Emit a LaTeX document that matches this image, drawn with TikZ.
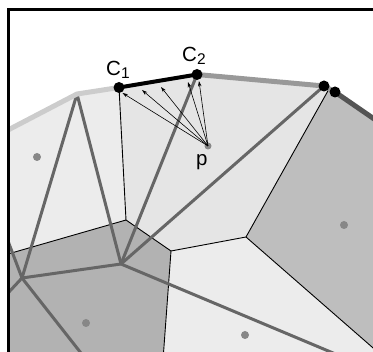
\documentclass[tikz,border=0pt]{standalone}
\usepackage{fontspec}
\setmainfont{Liberation Sans}
\usetikzlibrary{arrows.meta}
\definecolor{regA}{gray}{0.925}
\definecolor{regP}{gray}{0.9}
\definecolor{regR}{gray}{0.745}
\definecolor{regB}{gray}{0.70}
\definecolor{delc}{gray}{0.40}
\definecolor{hullL}{gray}{0.80}
\definecolor{hullM}{gray}{0.60}
\definecolor{hullD}{gray}{0.33}
\definecolor{sitec}{gray}{0.53}
\tikzset{
  vor/.style={black, line width=0.9pt},
  del/.style={delc, line width=3pt},
  hullline/.style={line width=5pt, line join=round},
  ray/.style={black, line width=0.6pt, -{Stealth[length=5.5pt,width=3.5pt]}},
  vert/.style={circle, fill=black, inner sep=0pt, minimum size=11pt},
  site/.style={circle, fill=sitec, inner sep=0pt, minimum size=8pt},
  lab/.style={anchor=base west, inner sep=0pt, font=\fontsize{20.5}{23}\selectfont}
}
\newcommand{\subs}[1]{\raisebox{-3pt}{\fontsize{15.5}{17}\selectfont #1}}
\begin{document}
\begin{tikzpicture}[x=1pt,y=-1pt]
\useasboundingbox (0,0) rectangle (373,352);
% hull points
\coordinate (H0) at (0,134.2);
\coordinate (H1) at (77,94);
\coordinate (C1) at (119,87.5);
\coordinate (C2) at (197,74.5);
\coordinate (H3) at (324,86);
\coordinate (H4) at (335,92);
\coordinate (H5) at (380,123);
% Voronoi vertices and ends
\coordinate (V1) at (126,220);
\coordinate (V2) at (171,251);
\coordinate (V3) at (246,237);
\coordinate (E0) at (329,89);
\coordinate (L1) at (0,256.3);
\coordinate (B1) at (163,360);
\coordinate (R1) at (380,354);
% Delaunay points
\coordinate (D1) at (22,278);
\coordinate (D2) at (121,264);
\coordinate (X1) at (0,301.6);
\coordinate (X2) at (0,219.9);
\coordinate (X3) at (88,362);
\coordinate (X4) at (345,358);
% arrow targets
\coordinate (a1) at (122.5,93);
\coordinate (a2) at (142,90);
\coordinate (a3) at (161,87);
\coordinate (a4) at (188,82);
\coordinate (a5) at (199,81);
\begin{scope}
\clip (8,10) rectangle (373,352);
% regions
\fill[regA] (H0) -- (H1) -- (C1) -- (V1) -- (L1) -- cycle;
\fill[regP] (C1) -- (C2) -- (H3) -- (E0) -- (V3) -- (V2) -- (V1) -- cycle;
\fill[regR] (E0) -- (H4) -- (H5) -- (R1) -- (V3) -- cycle;
\fill[regB] (L1) -- (V1) -- (V2) -- (B1) -- (0,360) -- cycle;
\fill[regA] (V2) -- (V3) -- (R1) -- (380,360) -- (B1) -- cycle;
% Voronoi edges
\draw[vor] (C1) -- (V1) -- (L1);
\draw[vor] (V1) -- (V2) -- (B1);
\draw[vor] (V2) -- (V3) -- (R1);
\draw[vor] (V3) -- (E0);
% Delaunay edges
\draw[del] (H1) -- (D1);
\draw[del] (H1) -- (D2);
\draw[del] (C2) -- (D2);
\draw[del] (H3) -- (D2);
\draw[del] (D1) -- (D2);
\draw[del] (D2) -- (X4);
\draw[del] (D1) -- (X1);
\draw[del] (D1) -- (X2);
\draw[del] (D1) -- (X3);
% hull
\draw[hullline, hullL] (H0) -- (H1) -- (C1);
\draw[hullline, hullM] (C2) -- (H3) -- (H4);
\draw[hullline, hullD] (H4) -- (H5);
\draw[black, line width=4pt] (C1) -- (C2);
% sites
\node[site] (s1) at (37,157) {};
\node[site] (s2) at (86,323) {};
\node[site] (s3) at (245,335) {};
\node[site] (s4) at (344,225) {};
\node[site, minimum size=7pt] (p) at (208,146) {};
% rays
\draw[ray] (p.center) -- (a1);
\draw[ray] (p.center) -- (a2);
\draw[ray] (p.center) -- (a3);
\draw[ray] (p.center) -- (a4);
\draw[ray] (p.center) -- (a5);
% hull vertices
\node[vert] (c1) at (C1) {};
\node[vert] (c2) at (C2) {};
\node[vert] (h3) at (H3) {};
\node[vert] (h4) at (H4) {};
\end{scope}
% frame
\draw[line width=3pt] (8,352) -- (8,10) -- (373,10);
% labels
\node[lab] (lc1) at (106,75.5) {C\subs{1}};
\node[lab] (lc2) at (182,61.5) {C\subs{2}};
\node[lab] (lp) at (196,165.5) {p};
\end{tikzpicture}
\end{document}
